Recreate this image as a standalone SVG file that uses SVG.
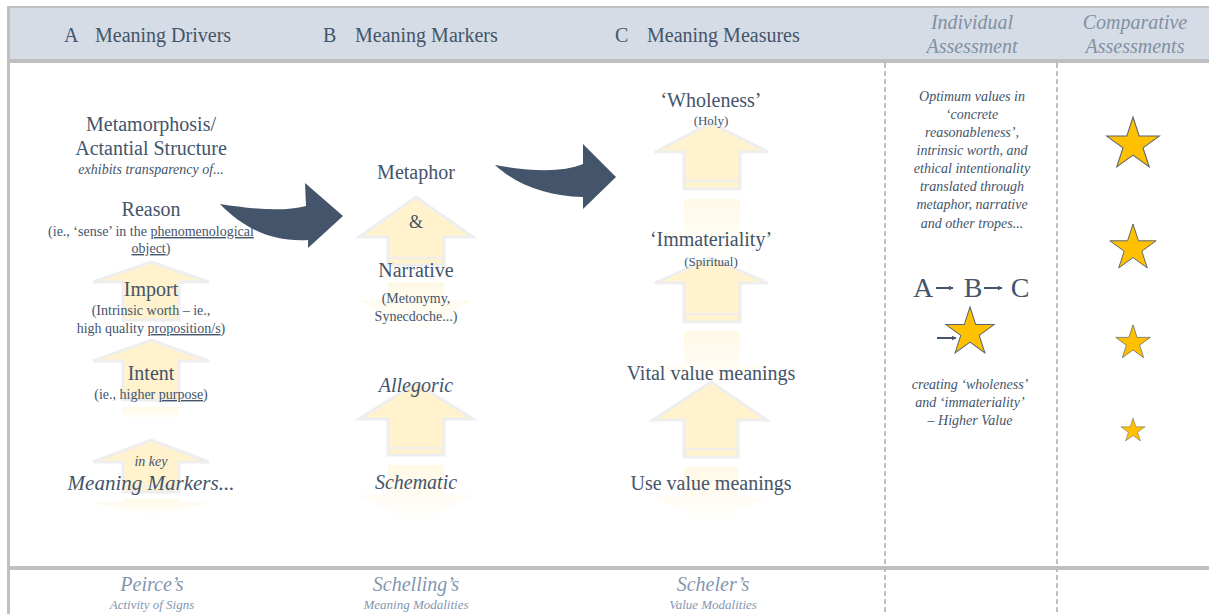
<svg xmlns="http://www.w3.org/2000/svg" width="1209" height="614" viewBox="0 0 1209 614">
<defs>
<linearGradient id="fade" x1="0" y1="0" x2="0" y2="1">
<stop offset="0" stop-color="#fff2cc" stop-opacity="0.5"/>
<stop offset="1" stop-color="#fff2cc" stop-opacity="0"/>
</linearGradient>
<path id="starShape" d="M0,-10 L2.245,-3.09 L9.511,-3.09 L3.633,1.18 L5.878,8.09 L0,3.82 L-5.878,8.09 L-3.633,1.18 L-9.511,-3.09 L-2.245,-3.09 Z" fill="#ffc000" stroke="#5a6472" stroke-width="0.4"/>
<marker id="ah" viewBox="0 0 10 10" refX="9" refY="5" markerWidth="5" markerHeight="5" orient="auto" markerUnits="userSpaceOnUse">
<path d="M0,0 L10,5 L0,10 Z" fill="#44546a"/>
</marker>
</defs>

<g id="frame">
<rect x="0" y="0" width="1209" height="614" fill="#ffffff"/>
<rect x="10" y="8" width="1199" height="52" fill="#d6dce5"/>
<rect x="7" y="6" width="1202" height="2" fill="#c0c0c0"/>
<rect x="10" y="59" width="1199" height="4" fill="#bfbfbf"/>
<rect x="7" y="6" width="3" height="608" fill="#bfbfbf"/>
<rect x="10" y="566" width="1199" height="4" fill="#bfbfbf"/>
<line x1="885" y1="63" x2="885" y2="614" stroke="#bfbfbf" stroke-width="2" stroke-dasharray="5 3"/>
<line x1="1057" y1="63" x2="1057" y2="614" stroke="#bfbfbf" stroke-width="2" stroke-dasharray="5 3"/>
</g>

<g id="header">
<text font-family="Liberation Serif" font-size="20" fill="#44546a" x="64" y="42">A</text>
<text font-family="Liberation Serif" font-size="20" fill="#44546a" x="95" y="42">Meaning Drivers</text>
<text font-family="Liberation Serif" font-size="20" fill="#44546a" x="323" y="42">B</text>
<text font-family="Liberation Serif" font-size="20" fill="#44546a" x="355" y="42">Meaning Markers</text>
<text font-family="Liberation Serif" font-size="20" fill="#44546a" x="615" y="42">C</text>
<text font-family="Liberation Serif" font-size="20" fill="#44546a" x="647" y="42">Meaning Measures</text>
<text font-family="Liberation Serif" font-size="20" font-style="italic" fill="#8190a3" text-anchor="middle" x="972" y="29">Individual</text>
<text font-family="Liberation Serif" font-size="20" font-style="italic" fill="#8190a3" text-anchor="middle" x="972" y="53">Assessment</text>
<text font-family="Liberation Serif" font-size="20" font-style="italic" fill="#8190a3" text-anchor="middle" x="1135" y="29">Comparative</text>
<text font-family="Liberation Serif" font-size="20" font-style="italic" fill="#8190a3" text-anchor="middle" x="1135" y="53">Assessments</text>
</g>

<g id="ghost-arrows" fill="#fff2cc" stroke="#eeeeee" stroke-width="3">
<path d="M151,262 L209,282 L179,282 L179,320 L123,320 L123,282 L93,282 Z"/>
<path d="M151,340 L209,361 L179,361 L179,400 L123,400 L123,361 L93,361 Z"/>
<line x1="123" y1="394" x2="179" y2="394" stroke-width="2"/>
<path d="M123,407 L179,407 L179,420 L123,420 Z" fill="url(#fade)" stroke="none"/>
<path d="M151,440 L209,462 L179,462 L179,492 L123,492 L123,462 L93,462 Z"/>
<line x1="123" y1="486" x2="179" y2="486" stroke-width="2"/>
<path d="M123,499 L179,499 L179,503 L209,503 L151,516 L93,503 L123,503 Z" fill="url(#fade)" stroke="none"/>
<path d="M416,197 L473,237 L444,237 L444,265 L388,265 L388,237 L359,237 Z"/>
<line x1="388" y1="258" x2="444" y2="258" stroke-width="2"/>
<path d="M388,282 L444,282 L444,300 L473,300 L416,335 L359,300 L388,300 Z" fill="url(#fade)" stroke="none"/>
<path d="M416,383 L473,419 L444,419 L444,455 L388,455 L388,419 L359,419 Z"/>
<line x1="388" y1="448" x2="444" y2="448" stroke-width="2"/>
<path d="M388,465 L444,465 L444,495 L473,495 L416,525 L359,495 L388,495 Z" fill="url(#fade)" stroke="none"/>
<path d="M711,123 L768,152 L740,152 L740,189 L684,189 L684,152 L655,152 Z"/>
<line x1="684" y1="181" x2="740" y2="181" stroke-width="2"/>
<path d="M684,199 L740,199 L740,232 L768,232 L711,262 L655,232 L684,232 Z" fill="url(#fade)" stroke="none"/>
<path d="M711,258 L768,283 L740,283 L740,322 L684,322 L684,283 L655,283 Z"/>
<line x1="684" y1="314" x2="740" y2="314" stroke-width="2"/>
<path d="M684,331 L740,331 L740,365 L768,365 L711,392 L655,365 L684,365 Z" fill="url(#fade)" stroke="none"/>
<path d="M711,382 L767,420 L738,420 L738,457 L684,457 L684,420 L653,420 Z"/>
<line x1="684" y1="449" x2="738" y2="449" stroke-width="2"/>
<path d="M684,467 L738,467 L738,497 L767,497 L711,525 L653,497 L684,497 Z" fill="url(#fade)" stroke="none"/>
</g>

<g id="connectors" fill="#44546a">
<path d="M220,204 C252,209 283,212 306,206 L305,183 L343,216 L308,248 L308,240 C273,242 244,229 220,204 Z"/>
<path d="M495,165 C528,171 562,173 583,164 L583,144 L616,177 L583,209 L583,197 C548,196 518,186 495,165 Z"/>
</g>

<g id="col-a">
<text font-family="Liberation Serif" font-size="20" fill="#44546a" text-anchor="middle" x="151" y="131">Metamorphosis/</text>
<text font-family="Liberation Serif" font-size="20" fill="#44546a" text-anchor="middle" x="151" y="155">Actantial Structure</text>
<text font-family="Liberation Serif" font-size="14" font-style="italic" fill="#44546a" text-anchor="middle" x="151" y="174">exhibits transparency of...</text>
<text font-family="Liberation Serif" font-size="20" fill="#44546a" text-anchor="middle" x="151" y="216">Reason</text>
<text font-family="Liberation Serif" font-size="14" fill="#44546a" text-anchor="middle" x="151" y="236">(ie., ‘sense’ in the <tspan text-decoration="underline">phenomenological</tspan></text>
<text font-family="Liberation Serif" font-size="14" fill="#44546a" text-anchor="middle" x="151" y="253"><tspan text-decoration="underline">object</tspan>)</text>
<text font-family="Liberation Serif" font-size="20" fill="#44546a" text-anchor="middle" x="151" y="296">Import</text>
<text font-family="Liberation Serif" font-size="14" fill="#44546a" text-anchor="middle" x="151" y="315">(Intrinsic worth – ie.,</text>
<text font-family="Liberation Serif" font-size="14" fill="#44546a" text-anchor="middle" x="151" y="333">high quality <tspan text-decoration="underline">proposition/s</tspan>)</text>
<text font-family="Liberation Serif" font-size="20" fill="#44546a" text-anchor="middle" x="151" y="380">Intent</text>
<text font-family="Liberation Serif" font-size="14" fill="#44546a" text-anchor="middle" x="151" y="399">(ie., higher <tspan text-decoration="underline">purpose</tspan>)</text>
<text font-family="Liberation Serif" font-size="14" font-style="italic" fill="#44546a" text-anchor="middle" x="151" y="466">in key</text>
<text font-family="Liberation Serif" font-size="21" font-style="italic" fill="#44546a" text-anchor="middle" x="151" y="490">Meaning Markers...</text>
</g>

<g id="col-b">
<text font-family="Liberation Serif" font-size="20" fill="#44546a" text-anchor="middle" x="416" y="179">Metaphor</text>
<text font-family="Liberation Serif" font-size="18" fill="#44546a" text-anchor="middle" x="416" y="228">&amp;</text>
<text font-family="Liberation Serif" font-size="20" fill="#44546a" text-anchor="middle" x="416" y="277">Narrative</text>
<text font-family="Liberation Serif" font-size="14" fill="#44546a" text-anchor="middle" x="416" y="303">(Metonymy,</text>
<text font-family="Liberation Serif" font-size="14" fill="#44546a" text-anchor="middle" x="416" y="321">Synecdoche...)</text>
<text font-family="Liberation Serif" font-size="20" font-style="italic" fill="#44546a" text-anchor="middle" x="416" y="392">Allegoric</text>
<text font-family="Liberation Serif" font-size="20" font-style="italic" fill="#44546a" text-anchor="middle" x="416" y="489">Schematic</text>
</g>

<g id="col-c">
<text font-family="Liberation Serif" font-size="20" fill="#44546a" text-anchor="middle" x="711" y="107">‘Wholeness’</text>
<text font-family="Liberation Serif" font-size="13" fill="#44546a" text-anchor="middle" x="711" y="125">(Holy)</text>
<text font-family="Liberation Serif" font-size="20" fill="#44546a" text-anchor="middle" x="711" y="246">‘Immateriality’</text>
<text font-family="Liberation Serif" font-size="13" fill="#44546a" text-anchor="middle" x="711" y="266">(Spiritual)</text>
<text font-family="Liberation Serif" font-size="20" fill="#44546a" text-anchor="middle" x="711" y="380">Vital value meanings</text>
<text font-family="Liberation Serif" font-size="20" fill="#44546a" text-anchor="middle" x="711" y="490">Use value meanings</text>
</g>

<g id="col-d">
<text font-family="Liberation Serif" font-size="14" font-style="italic" fill="#44546a" text-anchor="middle" x="972" y="101">Optimum values in</text>
<text font-family="Liberation Serif" font-size="14" font-style="italic" fill="#44546a" text-anchor="middle" x="972" y="119">‘concrete</text>
<text font-family="Liberation Serif" font-size="14" font-style="italic" fill="#44546a" text-anchor="middle" x="972" y="137">reasonableness’,</text>
<text font-family="Liberation Serif" font-size="14" font-style="italic" fill="#44546a" text-anchor="middle" x="972" y="155">intrinsic worth, and</text>
<text font-family="Liberation Serif" font-size="14" font-style="italic" fill="#44546a" text-anchor="middle" x="972" y="173">ethical intentionality</text>
<text font-family="Liberation Serif" font-size="14" font-style="italic" fill="#44546a" text-anchor="middle" x="972" y="191">translated through</text>
<text font-family="Liberation Serif" font-size="14" font-style="italic" fill="#44546a" text-anchor="middle" x="972" y="209">metaphor, narrative</text>
<text font-family="Liberation Serif" font-size="14" font-style="italic" fill="#44546a" text-anchor="middle" x="972" y="228">and other tropes...</text>
<text font-family="Liberation Serif" font-size="28" fill="#44546a" text-anchor="middle" x="923" y="297">A</text>
<text font-family="Liberation Serif" font-size="28" fill="#44546a" text-anchor="middle" x="973" y="297">B</text>
<text font-family="Liberation Serif" font-size="28" fill="#44546a" text-anchor="middle" x="1020" y="297">C</text>
<line x1="936" y1="288" x2="953" y2="288" stroke="#44546a" stroke-width="2" marker-end="url(#ah)"/>
<line x1="984" y1="288" x2="1002" y2="288" stroke="#44546a" stroke-width="2" marker-end="url(#ah)"/>
<line x1="937" y1="338" x2="956" y2="338" stroke="#44546a" stroke-width="2" marker-end="url(#ah)"/>
<use href="#starShape" transform="translate(970,332.4) scale(2.54)"/>
<text font-family="Liberation Serif" font-size="14" font-style="italic" fill="#44546a" text-anchor="middle" x="970" y="389">creating ‘wholeness’</text>
<text font-family="Liberation Serif" font-size="14" font-style="italic" fill="#44546a" text-anchor="middle" x="970" y="407">and ‘immateriality’</text>
<text font-family="Liberation Serif" font-size="14" font-style="italic" fill="#44546a" text-anchor="middle" x="970" y="425">– Higher Value</text>
</g>

<g id="col-e">
<use href="#starShape" transform="translate(1133,144.6) scale(2.76)"/>
<use href="#starShape" transform="translate(1133,248.3) scale(2.43)"/>
<use href="#starShape" transform="translate(1133,343) scale(1.82)"/>
<use href="#starShape" transform="translate(1133,430.7) scale(1.27)"/>
</g>

<g id="footer">
<text font-family="Liberation Serif" font-size="20" font-style="italic" fill="#8496b0" text-anchor="middle" x="152" y="591">Peirce’s</text>
<text font-family="Liberation Serif" font-size="13" font-style="italic" fill="#8496b0" text-anchor="middle" x="152" y="609">Activity of Signs</text>
<text font-family="Liberation Serif" font-size="20" font-style="italic" fill="#8496b0" text-anchor="middle" x="416" y="591">Schelling’s</text>
<text font-family="Liberation Serif" font-size="13" font-style="italic" fill="#8496b0" text-anchor="middle" x="416" y="609">Meaning Modalities</text>
<text font-family="Liberation Serif" font-size="20" font-style="italic" fill="#8496b0" text-anchor="middle" x="713" y="591">Scheler’s</text>
<text font-family="Liberation Serif" font-size="13" font-style="italic" fill="#8496b0" text-anchor="middle" x="713" y="609">Value Modalities</text>
</g>
</svg>
